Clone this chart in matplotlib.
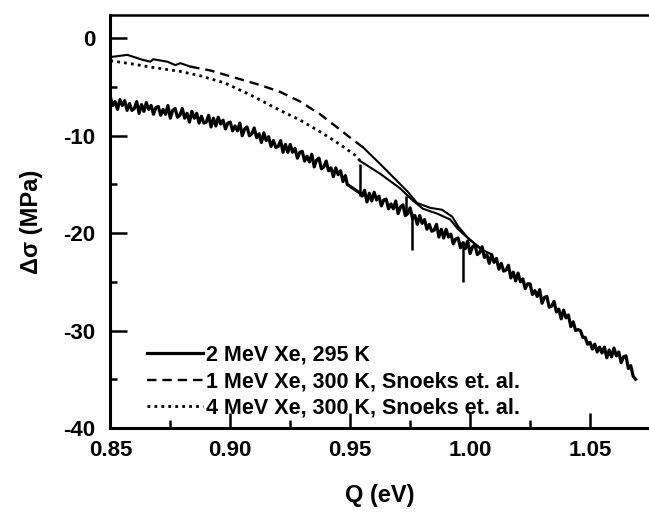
import numpy as np
import matplotlib.pyplot as plt

plt.rcParams['font.family'] = ['Liberation Sans', 'DejaVu Sans']
plt.rcParams['font.weight'] = 'bold'
plt.rcParams['axes.labelweight'] = 'bold'
plt.rcParams['axes.unicode_minus'] = False

q_2mev_a = np.linspace(0.850, 0.948, 99)
s_2mev_a = [
    -6.0, -6.9, -6.5, -7.3, -6.3, -6.9, -6.4, -7.4, -6.7, -7.4,
    -7.2, -6.5, -7.7, -6.8, -7.5, -6.6, -7.3, -6.9, -7.8, -7.1,
    -7.0, -7.9, -7.3, -7.8, -6.9, -8.2, -7.4, -7.2, -8.1, -7.9,
    -7.2, -8.2, -7.7, -8.6, -7.5, -8.2, -7.7, -8.7, -8.0, -8.7,
    -8.6, -7.9, -9.1, -8.2, -9.0, -8.1, -8.8, -8.4, -9.3, -8.7,
    -8.6, -9.5, -9.0, -9.5, -8.7, -10.0, -9.3, -9.1, -10.0, -9.8,
    -9.2, -10.2, -9.8, -10.7, -9.7, -10.5, -10.1, -11.1, -10.5, -11.2,
    -11.1, -10.5, -11.7, -10.9, -11.7, -10.9, -11.7, -11.3, -12.3, -11.7,
    -11.6, -12.6, -12.1, -12.7, -11.9, -13.2, -12.5, -12.3, -13.4, -13.2,
    -12.6, -13.6, -13.3, -14.2, -13.3, -14.0, -13.6, -14.7, -14.1,
]
q_gap = [0.9488, 0.9542]
s_gap = [-15.0, -15.9]
q_2mev_b = np.linspace(0.955, 1.069, 115)
s_2mev_b = [
    -16.2, -15.6, -16.8, -15.9, -16.7, -15.8, -16.6, -16.2, -17.2, -16.6,
    -16.5, -17.5, -17.0, -17.5, -16.7, -18.0, -17.3, -17.1, -18.2, -18.0,
    -17.4, -18.5, -18.2, -19.1, -18.2, -19.0, -18.6, -19.6, -19.1, -19.8,
    -19.7, -19.1, -20.4, -19.6, -20.5, -19.6, -20.4, -20.1, -21.1, -20.6,
    -20.5, -21.5, -21.0, -21.6, -20.8, -22.1, -21.4, -21.2, -22.2, -22.0,
    -21.4, -22.5, -22.2, -23.1, -22.2, -23.0, -22.6, -23.7, -23.1, -23.9,
    -23.8, -23.3, -24.6, -24.0, -24.9, -24.1, -25.0, -24.7, -25.7, -25.2,
    -25.2, -26.3, -25.9, -26.5, -25.8, -27.2, -26.6, -26.5, -27.6, -27.5,
    -27.0, -28.1, -27.8, -28.8, -27.9, -28.7, -28.4, -29.6, -29.1, -30.0,
    -29.9, -30.0, -30.7, -30.7, -31.4, -31.2, -31.9, -31.4, -32.2, -31.7,
    -32.3, -31.7, -32.8, -32.0, -32.7, -31.8, -32.6, -32.2, -33.3, -32.7,
    -32.6, -33.9, -33.6, -34.7, -35.0,
]
spike_q = [0.9542, 0.9733, 0.9758, 0.9971]
spike_top = [-12.9, -16.2, -17.9, -20.8]
spike_bot = [-16.2, -17.9, -21.7, -25.0]

# 1 MeV Xe, 300 K (Snoeks)
q_1mev_head = [0.8500, 0.8508, 0.8571, 0.8633, 0.8667, 0.8679, 0.8738, 0.8771, 0.8792, 0.8833]
s_1mev_head = [-1.9, -1.9, -1.7, -2.2, -2.4, -2.15, -2.4, -2.75, -2.55, -2.9]
q_1mev = [0.8833, 0.8917, 0.9000, 0.9125, 0.9208, 0.9292, 0.9375, 0.9438, 0.9500, 0.9554]
s_1mev = [-2.9, -3.3, -3.9, -4.8, -5.5, -6.5, -7.8, -9.0, -10.2, -11.2]
q_1mev_tail = [0.9554, 0.9625, 0.9738, 0.9779, 0.9833, 0.9883, 0.9925, 0.9950, 0.9988, 1.0042, 1.0083]
s_1mev_tail = [-11.2, -12.9, -15.7, -16.9, -17.4, -17.6, -18.3, -19.3, -20.4, -21.6, -22.1]

# 4 MeV Xe, 300 K (Snoeks)
q_4mev = [0.8500, 0.8583, 0.8667, 0.8792, 0.8875, 0.8979, 0.9083, 0.9208, 0.9292, 0.9375, 0.9458, 0.9521, 0.9542]
s_4mev = [-2.3, -2.6, -2.95, -3.4, -3.85, -4.6, -5.8, -7.4, -8.4, -9.6, -10.9, -12.0, -12.6]
q_4mev_tail = [0.9542, 0.9625, 0.9708, 0.9763, 0.9804, 0.9863, 0.9917, 0.9950, 1.0000, 1.0042]
s_4mev_tail = [-12.6, -13.9, -15.4, -16.7, -17.5, -18.0, -18.6, -19.6, -20.7, -21.5]

fig = plt.figure(figsize=(6.49, 5.15), dpi=100)
ax = fig.add_axes([0.170, 0.169, 0.830, 0.802])

q_2mev = np.concatenate([q_2mev_a, q_gap, q_2mev_b])
s_2mev = np.concatenate([s_2mev_a, s_gap, s_2mev_b])
ax.plot(q_2mev, s_2mev, color='black', lw=2.3, label='2 MeV Xe, 295 K')
ax.vlines(spike_q, spike_bot, spike_top, color='black', lw=1.8)

ax.plot(q_1mev_head, s_1mev_head, color='black', lw=1.5)
ax.plot(q_1mev, s_1mev, color='black', lw=1.7, dashes=(4, 2.5),
        label='1 MeV Xe, 300 K, Snoeks et. al.')
ax.plot(q_1mev_tail, s_1mev_tail, color='black', lw=1.5)

ax.plot(q_4mev, s_4mev, color='black', lw=2.0, dashes=(1, 1.5),
        label='4 MeV Xe, 300 K, Snoeks et. al.')
ax.plot(q_4mev_tail, s_4mev_tail, color='black', lw=1.5)

ax.set_xlim(0.85, 1.0746)
ax.set_ylim(-40, 2.4)
ax.set_xticks([0.85, 0.90, 0.95, 1.00, 1.05])
ax.set_xticklabels(['0.85', '0.90', '0.95', '1.00', '1.05'])
ax.set_xticks([0.875, 0.925, 0.975, 1.025], minor=True)
ax.set_yticks([-40, -30, -20, -10, 0])
ax.set_yticks([-35, -25, -15, -5], minor=True)

ax.spines['right'].set_visible(False)
for side in ['left', 'bottom']:
    ax.spines[side].set_linewidth(2.2)
ax.spines['top'].set_linewidth(1.8)

ax.tick_params(axis='both', which='both', direction='in', width=1.8,
               labelsize=16, top=False, right=False)
ax.tick_params(axis='y', which='major', length=12, pad=11)
ax.tick_params(axis='y', which='minor', length=5)
ax.tick_params(axis='x', which='major', length=11, pad=9)
ax.tick_params(axis='x', which='minor', length=6)

ax.set_xlabel('Q (eV)', fontsize=17, labelpad=16)
ax.set_ylabel('Δσ (MPa)', fontsize=17, labelpad=14)

ax.legend(loc='lower left', bbox_to_anchor=(0.068, 0.022), frameon=False,
          fontsize=15.5, handlelength=2.6, handletextpad=0.15,
          labelspacing=0.26, borderpad=0, borderaxespad=0)

plt.savefig('out.png', dpi=100)
